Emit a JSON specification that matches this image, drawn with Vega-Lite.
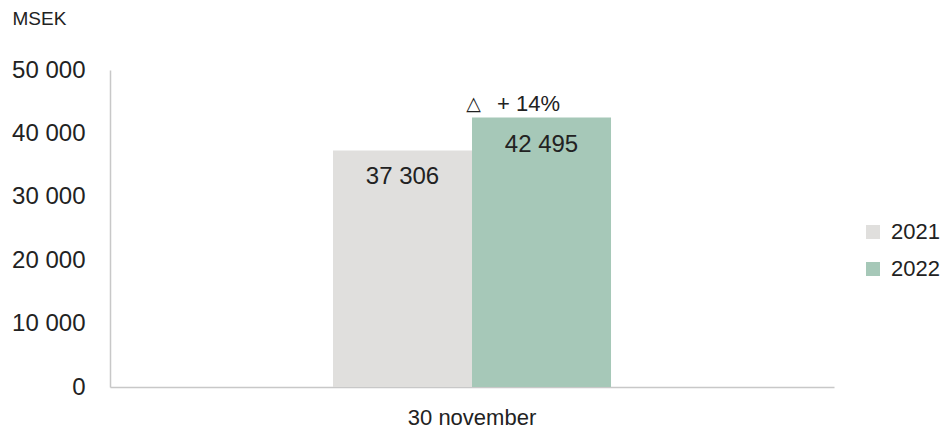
{
  "$schema": "https://vega.github.io/schema/vega-lite/v6.json",
  "width": 724,
  "height": 317,
  "autosize": {"type": "none"},
  "padding": {"left": 110, "top": 70, "right": 107, "bottom": 47},
  "background": "white",
  "config": {
    "locale": {"number": {"decimal": ",", "thousands": "\u00a0", "grouping": [3], "currency": ["", " kr"]}},
    "view": {"stroke": null},
    "font": "Liberation Sans",
    "text": {"font": "Liberation Sans"}
  },
  "data": {
    "values": [
      {"date": "30 november", "year": "2021", "value": 37306},
      {"date": "30 november", "year": "2022", "value": 42495}
    ]
  },
  "encoding": {
    "x": {
      "field": "date",
      "type": "nominal",
      "scale": {"paddingOuter": 0.802, "paddingInner": 0},
      "axis": {
        "title": null,
        "labelAngle": 0,
        "labelFontSize": 22,
        "labelColor": "#222222",
        "labelPadding": 20,
        "ticks": false,
        "domainColor": "#c8c8c8",
        "domainWidth": 1.5
      }
    },
    "xOffset": {
      "field": "year",
      "type": "nominal",
      "scale": {"paddingInner": 0, "paddingOuter": 0}
    },
    "y": {
      "field": "value",
      "type": "quantitative",
      "scale": {"domain": [0, 50000], "nice": false},
      "axis": {
        "title": "MSEK",
        "titleAngle": 0,
        "titleAlign": "left",
        "titleBaseline": "alphabetic",
        "titleX": -98,
        "titleY": -46,
        "titleFontSize": 19,
        "titleFontWeight": "normal",
        "titleColor": "#222222",
        "values": [0, 10000, 20000, 30000, 40000, 50000],
        "format": ",d",
        "labelFontSize": 24,
        "labelColor": "#222222",
        "labelPadding": 25,
        "ticks": false,
        "grid": false,
        "domainColor": "#c8c8c8",
        "domainWidth": 1.5
      }
    }
  },
  "layer": [
    {
      "mark": {"type": "bar"},
      "encoding": {
        "color": {
          "field": "year",
          "type": "nominal",
          "scale": {"domain": ["2021", "2022"], "range": ["#e0dfdd", "#a6c8b8"]},
          "legend": {
            "title": null,
            "orient": "none",
            "legendX": 752,
            "legendY": 151,
            "padding": 0,
            "symbolType": "square",
            "symbolSize": 196,
            "symbolStrokeWidth": 0,
            "labelFontSize": 22,
            "labelColor": "#222222",
            "labelOffset": 7,
            "rowPadding": 15
          }
        }
      }
    },
    {
      "mark": {"type": "text", "baseline": "middle", "dy": 27, "fontSize": 24, "color": "#222222"},
      "encoding": {
        "text": {"field": "value", "type": "quantitative", "format": ",d"}
      }
    },
    {
      "transform": [{"filter": "datum.year == '2022'"}],
      "mark": {"type": "text", "baseline": "middle", "dy": -14, "dx": -68, "fontSize": 19, "color": "#222222", "font": "DejaVu Sans"},
      "encoding": {
        "text": {"value": "\u25b3"}
      }
    },
    {
      "transform": [{"filter": "datum.year == '2022'"}],
      "mark": {"type": "text", "baseline": "middle", "dy": -14, "dx": -13, "fontSize": 22, "color": "#222222"},
      "encoding": {
        "text": {"value": "+\u00a014%"}
      }
    }
  ]
}
